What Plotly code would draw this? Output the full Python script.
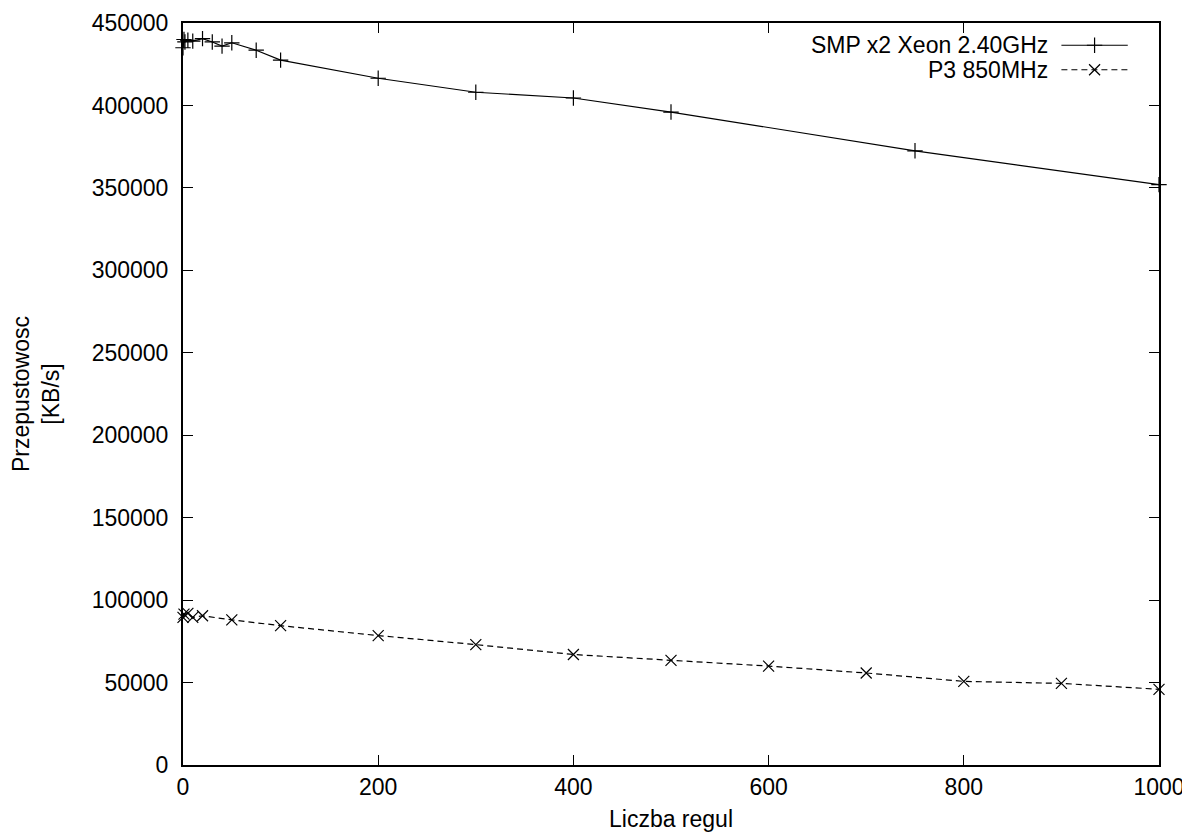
import plotly.graph_objects as go

# Data
smp_x = [0, 1, 2, 5, 10, 20, 30, 40, 50, 75, 100, 200, 300, 400, 500, 750, 1000]
smp_y = [435000, 440000, 438500, 439500, 439000, 440500, 438500, 436000, 438000,
         433500, 427500, 416500, 408000, 404500, 396000, 372500, 352000]

p3_x = [0, 1, 5, 10, 20, 50, 100, 200, 300, 400, 500, 600, 700, 800, 900, 1000]
p3_y = [89500, 91500, 92000, 89500, 90500, 88000, 84500, 78500, 73000, 67000,
        63500, 60000, 55800, 50700, 49500, 45900]

series_names = ["SMP x2 Xeon 2.40GHz", "P3 850MHz"]
x_title = "Liczba regul"
y_title = "Przepustowosc<br>[KB/s]"

FONT = "Liberation Sans, Arial, Helvetica, sans-serif"
FS = 23

fig = go.Figure()
fig.add_trace(go.Scatter(
    x=smp_x, y=smp_y, mode="lines+markers", name=series_names[0],
    line=dict(color="black", width=1.2),
    marker=dict(symbol="cross-thin-open", size=11, color="black",
                line=dict(color="black", width=1.2)),
    showlegend=False, cliponaxis=False))
fig.add_trace(go.Scatter(
    x=p3_x, y=p3_y, mode="lines+markers", name=series_names[1],
    line=dict(color="black", width=1.2, dash="6px,4px"),
    marker=dict(symbol="x-thin-open", size=11, color="black",
                line=dict(color="black", width=1.2)),
    showlegend=False, cliponaxis=False))

# Gnuplot-style legend (text, then sample on the right), drawn on an overlay axis
leg_y = [0.970, 0.937]
for i, (nm, dash, sym) in enumerate([(series_names[0], "solid", "cross-thin-open"),
                                      (series_names[1], "6px,4px", "x-thin-open")]):
    fig.add_trace(go.Scatter(
        x=[0.900, 0.968], y=[leg_y[i], leg_y[i]], mode="lines", xaxis="x2", yaxis="y2",
        line=dict(color="black", width=1.2, dash=dash), showlegend=False, hoverinfo="skip"))
    fig.add_trace(go.Scatter(
        x=[0.934], y=[leg_y[i]], mode="markers", xaxis="x2", yaxis="y2",
        marker=dict(symbol=sym, size=11, color="black", line=dict(color="black", width=1.2)),
        showlegend=False, hoverinfo="skip"))
    fig.add_annotation(x=0.888, y=leg_y[i], xref="x2", yref="y2", text=nm,
                       showarrow=False, xanchor="right", yanchor="middle",
                       font=dict(family=FONT, size=FS, color="black"))

axis_common = dict(
    showline=True, linecolor="black", linewidth=2, mirror="allticks",
    ticks="inside", ticklen=10, tickwidth=1, tickcolor="black",
    showgrid=False, zeroline=False, automargin=False,
    tickfont=dict(family=FONT, size=FS, color="black"),
)

# page body has an 8px margin, so the figure is drawn 8px smaller
fig.update_layout(
    width=1182, height=826,
    margin=dict(l=175, r=31, t=15, b=69),
    paper_bgcolor="white", plot_bgcolor="white",
    font=dict(family=FONT, size=FS, color="black"),
    xaxis=dict(range=[0, 1000], dtick=200, tick0=0, tickformat="d",
               title=dict(text=x_title, standoff=12, font=dict(family=FONT, size=FS)),
               **axis_common),
    yaxis=dict(range=[0, 450000], dtick=50000, tick0=0, tickformat="d",
               title=dict(text=y_title, standoff=30, font=dict(family=FONT, size=FS)),
               ticklabelstandoff=8,
               **axis_common),
    xaxis2=dict(range=[0, 1], overlaying="x", visible=False, fixedrange=True),
    yaxis2=dict(range=[0, 1], overlaying="y", visible=False, fixedrange=True),
    showlegend=False,
)

fig.write_html("out.html")
